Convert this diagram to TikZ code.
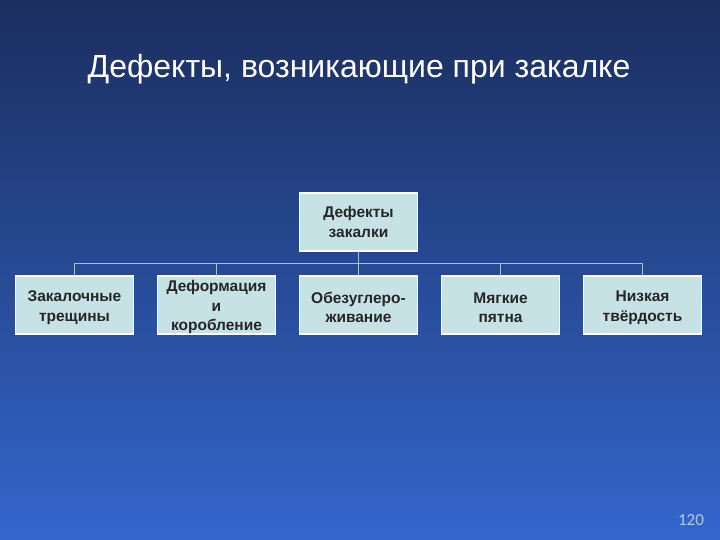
\documentclass[tikz,border=0pt]{standalone}
\usepackage{fontspec}
\setmainfont{Liberation Sans}
\newfontfamily\numfont{Carlito}
\usetikzlibrary{positioning, calc}
\definecolor{bgtop}{HTML}{1B2E5E}
\definecolor{bgbot}{HTML}{3366CC}
\definecolor{boxfill}{HTML}{C6E2E5}
\definecolor{linecol}{HTML}{A9C2D3}
\definecolor{numcol}{HTML}{B4C8EC}
% raise the first line like a slide text box does
\newcommand{\lift}{\rule{0pt}{16pt}}

\begin{document}
\begin{tikzpicture}[x=1pt, y=-1pt,
		defect/.style={draw=white, line width=1.5pt, fill=boxfill, text=black!85,
			minimum width=118pt, minimum height=58pt, inner xsep=1pt, inner ysep=0pt,
			outer sep=0pt, align=center, font=\bfseries\fontsize{15.5}{19.5}\selectfont},
		conn/.style={draw=linecol, line width=1.8pt},
		node distance=24pt]
		\shade[top color=bgtop, bottom color=bgbot] (0,0) rectangle (720,540);
		\useasboundingbox (0,0) rectangle (720,540);
		\node[text=white, font=\fontsize{32}{36}\selectfont] (title) at (359,69) {Дефекты, возникающие при закалке};
		\node[defect] (root) at (358.5,222) {Дефекты\\закалки};
		\node[defect, below=25pt of root] (d3) {\lift Обезуглеро-\\живание};
		\node[defect, left=of d3] (d2) {\lift Деформация\\и\\коробление};
		\node[defect, left=of d2] (d1) {\lift Закалочные\\трещины};
		\node[defect, right=of d3] (d4) {\lift Мягкие\\пятна};
		\node[defect, right=of d4] (d5) {\lift Низкая\\твёрдость};
		\coordinate (bus) at ($(root.south)!.5!(d3.north)$);
		\draw[conn] (root.south) -- (d3.north);
		\foreach \d in {d1, d2, d4, d5}
			\draw[conn] (bus) -| (\d.north);
		\node[text=numcol, font=\numfont\fontsize{17}{20}\selectfont] (page) at (691,520) {120};
	\end{tikzpicture}
\end{document}
